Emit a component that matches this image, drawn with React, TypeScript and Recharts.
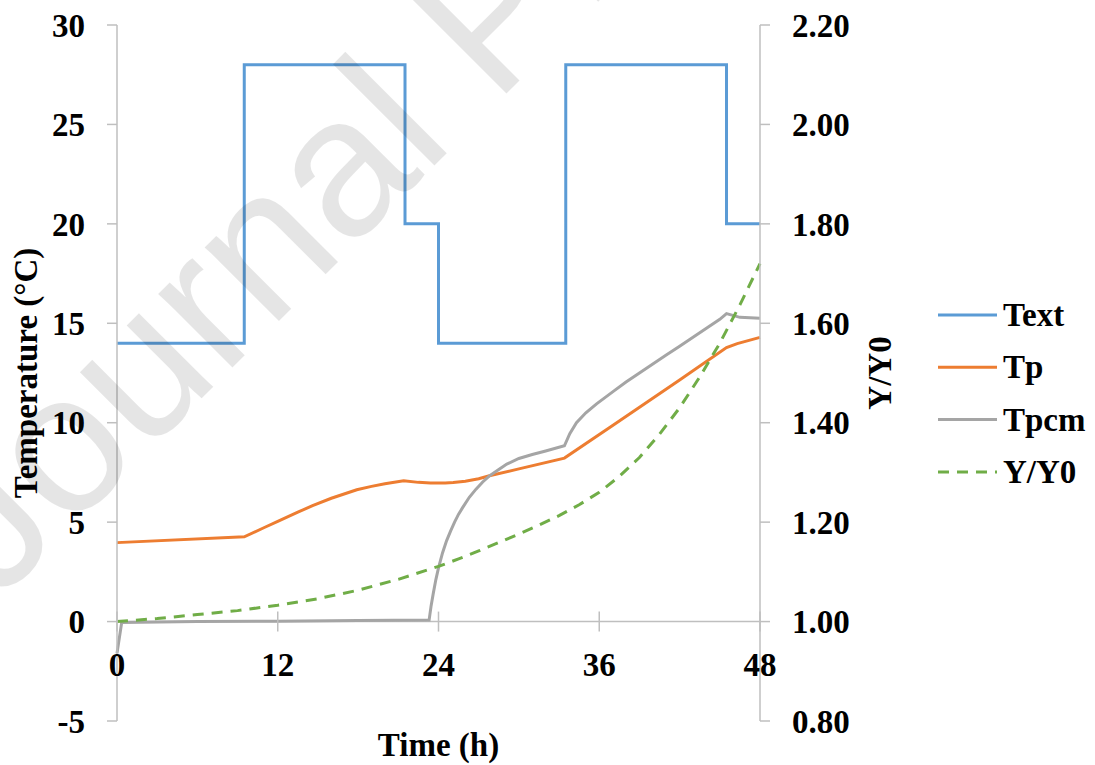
import { LineChart, Line, XAxis, YAxis, ReferenceLine, Legend } from "recharts"

// outdoor temperature set points (°C), stepped schedule
const textHours = [0, 9.5, 9.5, 21.5, 21.5, 24, 24, 33.5, 33.5, 45.5, 45.5, 48]
const textTemp = [14, 14, 28, 28, 20, 20, 14, 14, 28, 28, 20, 20]

// product temperature (°C)
const tpHours = [0, 9.5, 11, 12, 13.5, 14.6, 16, 17.9, 19, 20, 21.4, 22.5, 23.4, 24.5, 25.1, 26, 27, 27.8, 30, 33.4, 37, 42, 45.5, 46.3, 48]
const tpTemp = [3.97, 4.26, 4.73, 5.04, 5.5, 5.83, 6.2, 6.63, 6.8, 6.93, 7.08, 7.0, 6.97, 6.97, 6.99, 7.06, 7.18, 7.33, 7.68, 8.22, 9.86, 12.15, 13.78, 13.98, 14.29]

// phase change material temperature (°C)
const tpcmHours = [
  0, 0.35, 6, 12, 18, 23.3, 23.45, 23.6, 23.8, 24, 24.3, 24.6, 24.9, 25.2, 25.5, 25.8, 26.3, 26.8, 27.3, 27.8,
  28.5, 29.1, 30, 31, 32, 33.4, 33.8, 34.3, 35, 35.8, 36.5, 37.1, 38, 39, 40, 41, 42, 43, 44, 45, 45.5, 46.5, 48,
]
const tpcmTemp = [
  -1.6, -0.05, 0, 0.02, 0.05, 0.08, 0.8, 1.38, 2.1, 2.7, 3.45, 4.06, 4.55, 5.0, 5.4, 5.73, 6.25, 6.66, 7.02, 7.33,
  7.65, 7.92, 8.2, 8.4, 8.58, 8.84, 9.45, 10.0, 10.5, 10.95, 11.3, 11.6, 12.05, 12.5, 12.95, 13.4, 13.85, 14.3, 14.75, 15.2, 15.49, 15.3, 15.25,
]

// relative growth Y/Y0
const ratioHours = [0, 3, 6, 9, 12, 15, 18, 21, 24, 25.5, 27, 28.5, 30, 31.5, 33, 34.5, 36, 37.5, 39, 40.5, 42, 43.5, 45, 46.5, 48]
const ratioValues = [
  1.0, 1.006, 1.014, 1.022, 1.033, 1.046, 1.063, 1.085, 1.111, 1.126, 1.142, 1.159, 1.176, 1.194, 1.213, 1.235,
  1.26, 1.292, 1.33, 1.377, 1.43, 1.492, 1.56, 1.637, 1.72,
]

const hourTicks = [0, 12, 24, 36, 48]
const tempTicks = [-5, 0, 5, 10, 15, 20, 25, 30]
const ratioTicks = [0.8, 1.0, 1.2, 1.4, 1.6, 1.8, 2.0, 2.2]

const zip = (xs: number[], ys: number[]) => xs.map((t, i) => ({ t, v: ys[i] }))

const SERIES = [
  { name: "Text", color: "#5B9BD5", dash: undefined, axis: "left", data: zip(textHours, textTemp) },
  { name: "Tp", color: "#ED7D31", dash: undefined, axis: "left", data: zip(tpHours, tpTemp) },
  { name: "Tpcm", color: "#A5A5A5", dash: undefined, axis: "left", data: zip(tpcmHours, tpcmTemp) },
  { name: "Y/Y0", color: "#70AD47", dash: "11 8", axis: "right", data: zip(ratioHours, ratioValues) },
]

const W = 1095
const H = 765
const MARGIN = { top: 25, right: 195, bottom: 0, left: 0 }
const X_AXIS_H = 44
const PLOT_H = H - MARGIN.top - MARGIN.bottom - X_AXIS_H
const AXIS = "#BFBFBF"

const font = {
  fontFamily: "'Liberation Serif', 'Times New Roman', serif",
  fontWeight: 700,
  fontSize: 33,
  fill: "#000",
}

// x axis crosses the left axis at 0, i.e. 5 units above the plot bottom
const zeroOffset = (PLOT_H * 5) / 35

function HourTick(props: any) {
  const { x, y, payload } = props
  const zy = y - zeroOffset
  return (
    <g>
      <line x1={x} x2={x} y1={zy - 10} y2={zy + 10} stroke={AXIS} strokeWidth={1.5} />
      <text x={x} y={zy + 43} textAnchor="middle" dominantBaseline="central" style={font}>
        {payload.value}
      </text>
    </g>
  )
}

const axisTitle = (text: string, dx: (vb: any) => number, rotate: boolean, dy = 0) =>
  (props: any) => {
    const vb = props.viewBox
    const cx = dx(vb)
    const cy = rotate ? vb.y + vb.height / 2 : vb.y + dy
    return (
      <text
        x={cx}
        y={cy}
        textAnchor="middle"
        dominantBaseline="central"
        transform={rotate ? `rotate(-90 ${cx} ${cy})` : undefined}
        style={font}
      >
        {text}
      </text>
    )
  }

const renderLegend = () => (
  <svg width={160} height={210}>
    {SERIES.map((s, i) => {
      const cy = 26 + i * 52.3
      return (
        <g key={s.name}>
          <line x1={0} x2={59} y1={cy} y2={cy} stroke={s.color} strokeWidth={3} strokeDasharray={s.dash} />
          <text x={65} y={cy} dominantBaseline="central" style={font}>
            {s.name}
          </text>
        </g>
      )
    })}
  </svg>
)

export default function App() {
  return (
    <div style={{ position: "absolute", left: 0, top: 0, width: W, height: H, background: "#fff" }}>
      <LineChart width={W} height={H} margin={MARGIN}>
        <XAxis
          type="number"
          dataKey="t"
          domain={[0, 48]}
          ticks={hourTicks}
          height={X_AXIS_H}
          axisLine={false}
          tickLine={false}
          tickSize={0}
          tickMargin={0}
          tick={<HourTick />}
          label={{ content: axisTitle("Time (h)", (vb) => vb.x + vb.width / 2, false, 24) }}
        />
        <YAxis
          yAxisId="left"
          orientation="left"
          width={117}
          domain={[-5, 30]}
          ticks={tempTicks}
          axisLine={{ stroke: AXIS, strokeWidth: 1.5 }}
          tickLine={{ stroke: AXIS, strokeWidth: 1.5 }}
          tickSize={10}
          tickMargin={22}
          tick={font}
          label={{ content: axisTitle("Temperature (°C)", (vb) => vb.x + 26, true) }}
        />
        <YAxis
          yAxisId="right"
          orientation="right"
          width={140}
          domain={[0.8, 2.2]}
          ticks={ratioTicks}
          tickFormatter={(v: number) => v.toFixed(2)}
          axisLine={{ stroke: AXIS, strokeWidth: 1.5 }}
          tickLine={{ stroke: AXIS, strokeWidth: 1.5 }}
          tickSize={10}
          tickMargin={22}
          tick={font}
          label={{ content: axisTitle("Y/Y0", (vb) => vb.x + 120, true) }}
        />
        <ReferenceLine y={0} yAxisId="left" stroke={AXIS} strokeWidth={1.5} />
        {SERIES.map((s) => (
          <Line
            key={s.name}
            name={s.name}
            data={s.data}
            dataKey="v"
            yAxisId={s.axis}
            type="linear"
            stroke={s.color}
            strokeWidth={3}
            strokeDasharray={s.dash}
            dot={false}
            activeDot={false}
            isAnimationActive={false}
          />
        ))}
        <Legend
          layout="horizontal"
          verticalAlign="middle"
          align="center"
          content={renderLegend}
          wrapperStyle={{ left: 938, top: 289, width: 160, height: 210 }}
        />
      </LineChart>
      <svg
        width={W}
        height={H}
        style={{ position: "absolute", left: 0, top: 0, pointerEvents: "none" }}
      >
        <text
          x={-3}
          y={603}
          transform="rotate(-45 -3 603)"
          fontFamily="'Liberation Sans', Arial, sans-serif"
          fontSize={198}
          fill="#000"
          fillOpacity={0.1}
        >
          Journal Pre-proof
        </text>
      </svg>
    </div>
  )
}
